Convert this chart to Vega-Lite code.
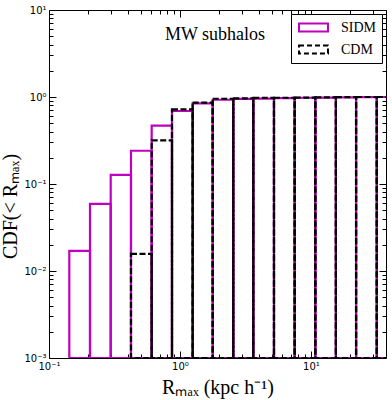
{
  "$schema": "https://vega.github.io/schema/vega-lite/v6.json",
  "width": 337,
  "height": 348,
  "autosize": "none",
  "padding": {"left": 49, "top": 10, "right": 6, "bottom": 42},
  "background": "white",
  "config": {
    "view": {"stroke": "black", "strokeWidth": 1},
    "axis": {"grid": false, "domain": false, "tickColor": "black", "tickWidth": 1, "labelColor": "black", "titleColor": "black"}
  },
  "datasets": {
    "sidm": [
      {"model": "SIDM", "lo": 0.1429, "hi": 0.2056, "cdf": 0.017},
      {"model": "SIDM", "lo": 0.2056, "hi": 0.2958, "cdf": 0.059},
      {"model": "SIDM", "lo": 0.2958, "hi": 0.4226, "cdf": 0.127},
      {"model": "SIDM", "lo": 0.4226, "hi": 0.608, "cdf": 0.241},
      {"model": "SIDM", "lo": 0.608, "hi": 0.869, "cdf": 0.468},
      {"model": "SIDM", "lo": 0.869, "hi": 1.25, "cdf": 0.69},
      {"model": "SIDM", "lo": 1.25, "hi": 1.778, "cdf": 0.846},
      {"model": "SIDM", "lo": 1.778, "hi": 2.553, "cdf": 0.93},
      {"model": "SIDM", "lo": 2.553, "hi": 3.63, "cdf": 0.95},
      {"model": "SIDM", "lo": 3.63, "hi": 5.22, "cdf": 0.96},
      {"model": "SIDM", "lo": 5.22, "hi": 7.51, "cdf": 0.97},
      {"model": "SIDM", "lo": 7.51, "hi": 10.8, "cdf": 0.98},
      {"model": "SIDM", "lo": 10.8, "hi": 15.5, "cdf": 0.985},
      {"model": "SIDM", "lo": 15.5, "hi": 22.1, "cdf": 0.99},
      {"model": "SIDM", "lo": 22.1, "hi": 31.8, "cdf": 0.995},
      {"model": "SIDM", "lo": 31.8, "hi": 45.3, "cdf": 1.0}
    ],
    "cdm": [
      {"model": "CDM", "lo": 0.4226, "hi": 0.608, "cdf": 0.0157},
      {"model": "CDM", "lo": 0.608, "hi": 0.869, "cdf": 0.318},
      {"model": "CDM", "lo": 0.869, "hi": 1.25, "cdf": 0.72},
      {"model": "CDM", "lo": 1.25, "hi": 1.778, "cdf": 0.86},
      {"model": "CDM", "lo": 1.778, "hi": 2.553, "cdf": 0.955},
      {"model": "CDM", "lo": 2.553, "hi": 3.63, "cdf": 0.965},
      {"model": "CDM", "lo": 3.63, "hi": 5.22, "cdf": 0.975},
      {"model": "CDM", "lo": 5.22, "hi": 7.51, "cdf": 0.98},
      {"model": "CDM", "lo": 7.51, "hi": 10.8, "cdf": 0.985},
      {"model": "CDM", "lo": 10.8, "hi": 15.5, "cdf": 0.99},
      {"model": "CDM", "lo": 15.5, "hi": 22.1, "cdf": 0.995},
      {"model": "CDM", "lo": 22.1, "hi": 31.8, "cdf": 1.0},
      {"model": "CDM", "lo": 31.8, "hi": 45.3, "cdf": 1.0}
    ]
  },
  "resolve": {"axis": {"x": "independent", "y": "independent"}},
  "layer": [
    {
      "data": {"name": "sidm"},
      "mark": {"type": "rect", "filled": false, "strokeWidth": 2.2, "clip": true},
      "encoding": {
        "x": {
          "field": "lo", "type": "quantitative",
          "scale": {"type": "log", "domain": [0.1, 37.4], "nice": false},
          "axis": {
            "orient": "bottom",
            "values": [0.1, 0.2, 0.3, 0.4, 0.5, 0.6, 0.7, 0.8, 0.9, 1, 2, 3, 4, 5, 6, 7, 8, 9, 10, 20, 30],
            "tickSize": {"condition": {"test": "abs(log(datum.value)/LN10 - round(log(datum.value)/LN10)) < 0.001", "value": -7}, "value": -4},
            "labelExpr": "abs(log(datum.value)/LN10 - round(log(datum.value)/LN10)) < 0.001 ? '10' + replace(replace(replace(replace(replace('' + round(log(datum.value)/LN10), '-', '⁻'), '0', '⁰'), '1', '¹'), '2', '²'), '3', '³') : ''",
            "labelFont": "DejaVu Sans", "labelFontSize": 10, "labelPadding": 10,
            "labelFlush": false, "labelOverlap": false,
            "title": "Rₘₐₓ (kpc h⁻¹)",
            "titleFont": "Liberation Serif", "titleFontSize": 20, "titleFontWeight": "normal", "titlePadding": 3
          }
        },
        "x2": {"field": "hi"},
        "y": {
          "field": "cdf", "type": "quantitative",
          "scale": {"type": "log", "domain": [0.001, 10], "nice": false},
          "axis": {
            "orient": "left",
            "values": [0.001, 0.002, 0.003, 0.004, 0.005, 0.006, 0.007, 0.008, 0.009, 0.01, 0.02, 0.03, 0.04, 0.05, 0.06, 0.07, 0.08, 0.09, 0.1, 0.2, 0.3, 0.4, 0.5, 0.6, 0.7, 0.8, 0.9, 1, 2, 3, 4, 5, 6, 7, 8, 9, 10],
            "tickSize": {"condition": {"test": "abs(log(datum.value)/LN10 - round(log(datum.value)/LN10)) < 0.001", "value": -7}, "value": -4},
            "labelExpr": "abs(log(datum.value)/LN10 - round(log(datum.value)/LN10)) < 0.001 ? '10' + replace(replace(replace(replace(replace('' + round(log(datum.value)/LN10), '-', '⁻'), '0', '⁰'), '1', '¹'), '2', '²'), '3', '³') : ''",
            "labelFont": "DejaVu Sans", "labelFontSize": 10, "labelPadding": 10,
            "labelFlush": false, "labelOverlap": false,
            "title": "CDF(< Rₘₐₓ)",
            "titleFont": "Liberation Serif", "titleFontSize": 20, "titleFontWeight": "normal", "titlePadding": 3,
            "titleY": 196
          }
        },
        "y2": {"datum": 0.001},
        "stroke": {
          "field": "model", "type": "nominal",
          "scale": {"domain": ["SIDM", "CDM"], "range": ["#bf00bf", "black"]},
          "legend": {
            "title": null, "orient": "top-right", "offset": 4,
            "strokeColor": "black", "fillColor": "white", "padding": 5, "cornerRadius": 0,
            "symbolType": "M-2,-0.55H2V0.55H-2Z", "symbolSize": 210, "symbolStrokeWidth": 2,
            "symbolFillColor": "transparent", "symbolOffset": 9,
            "labelFont": "Liberation Serif", "labelFontSize": 14, "labelOffset": 19, "rowPadding": 5,
            "encode": {"symbols": {"update": {"strokeDash": {"signal": "datum.value === 'CDM' ? [5, 3] : [1, 0]"}}}}
          }
        }
      }
    },
    {
      "data": {"name": "cdm"},
      "mark": {"type": "rect", "filled": false, "strokeWidth": 2.2, "strokeDash": [6, 2.5], "clip": true},
      "encoding": {
        "x": {
          "field": "lo", "type": "quantitative",
          "axis": {
            "orient": "top",
            "values": [0.1, 0.2, 0.3, 0.4, 0.5, 0.6, 0.7, 0.8, 0.9, 1, 2, 3, 4, 5, 6, 7, 8, 9, 10, 20, 30],
            "tickSize": {"condition": {"test": "abs(log(datum.value)/LN10 - round(log(datum.value)/LN10)) < 0.001", "value": -7}, "value": -4},
            "labels": false, "title": null
          }
        },
        "x2": {"field": "hi"},
        "y": {
          "field": "cdf", "type": "quantitative",
          "axis": {
            "orient": "right",
            "values": [0.001, 0.002, 0.003, 0.004, 0.005, 0.006, 0.007, 0.008, 0.009, 0.01, 0.02, 0.03, 0.04, 0.05, 0.06, 0.07, 0.08, 0.09, 0.1, 0.2, 0.3, 0.4, 0.5, 0.6, 0.7, 0.8, 0.9, 1, 2, 3, 4, 5, 6, 7, 8, 9, 10],
            "tickSize": {"condition": {"test": "abs(log(datum.value)/LN10 - round(log(datum.value)/LN10)) < 0.001", "value": -7}, "value": -4},
            "labels": false, "title": null
          }
        },
        "y2": {"datum": 0.001},
        "stroke": {"field": "model", "type": "nominal"}
      }
    },
    {
      "data": {"values": [{"label": "MW subhalos", "px": 1.85, "py": 5.2}]},
      "mark": {"type": "text", "font": "Liberation Serif", "fontSize": 18, "align": "center", "baseline": "middle", "color": "black"},
      "encoding": {
        "x": {"field": "px", "type": "quantitative", "axis": null},
        "y": {"field": "py", "type": "quantitative", "axis": null},
        "text": {"field": "label"}
      }
    }
  ]
}
